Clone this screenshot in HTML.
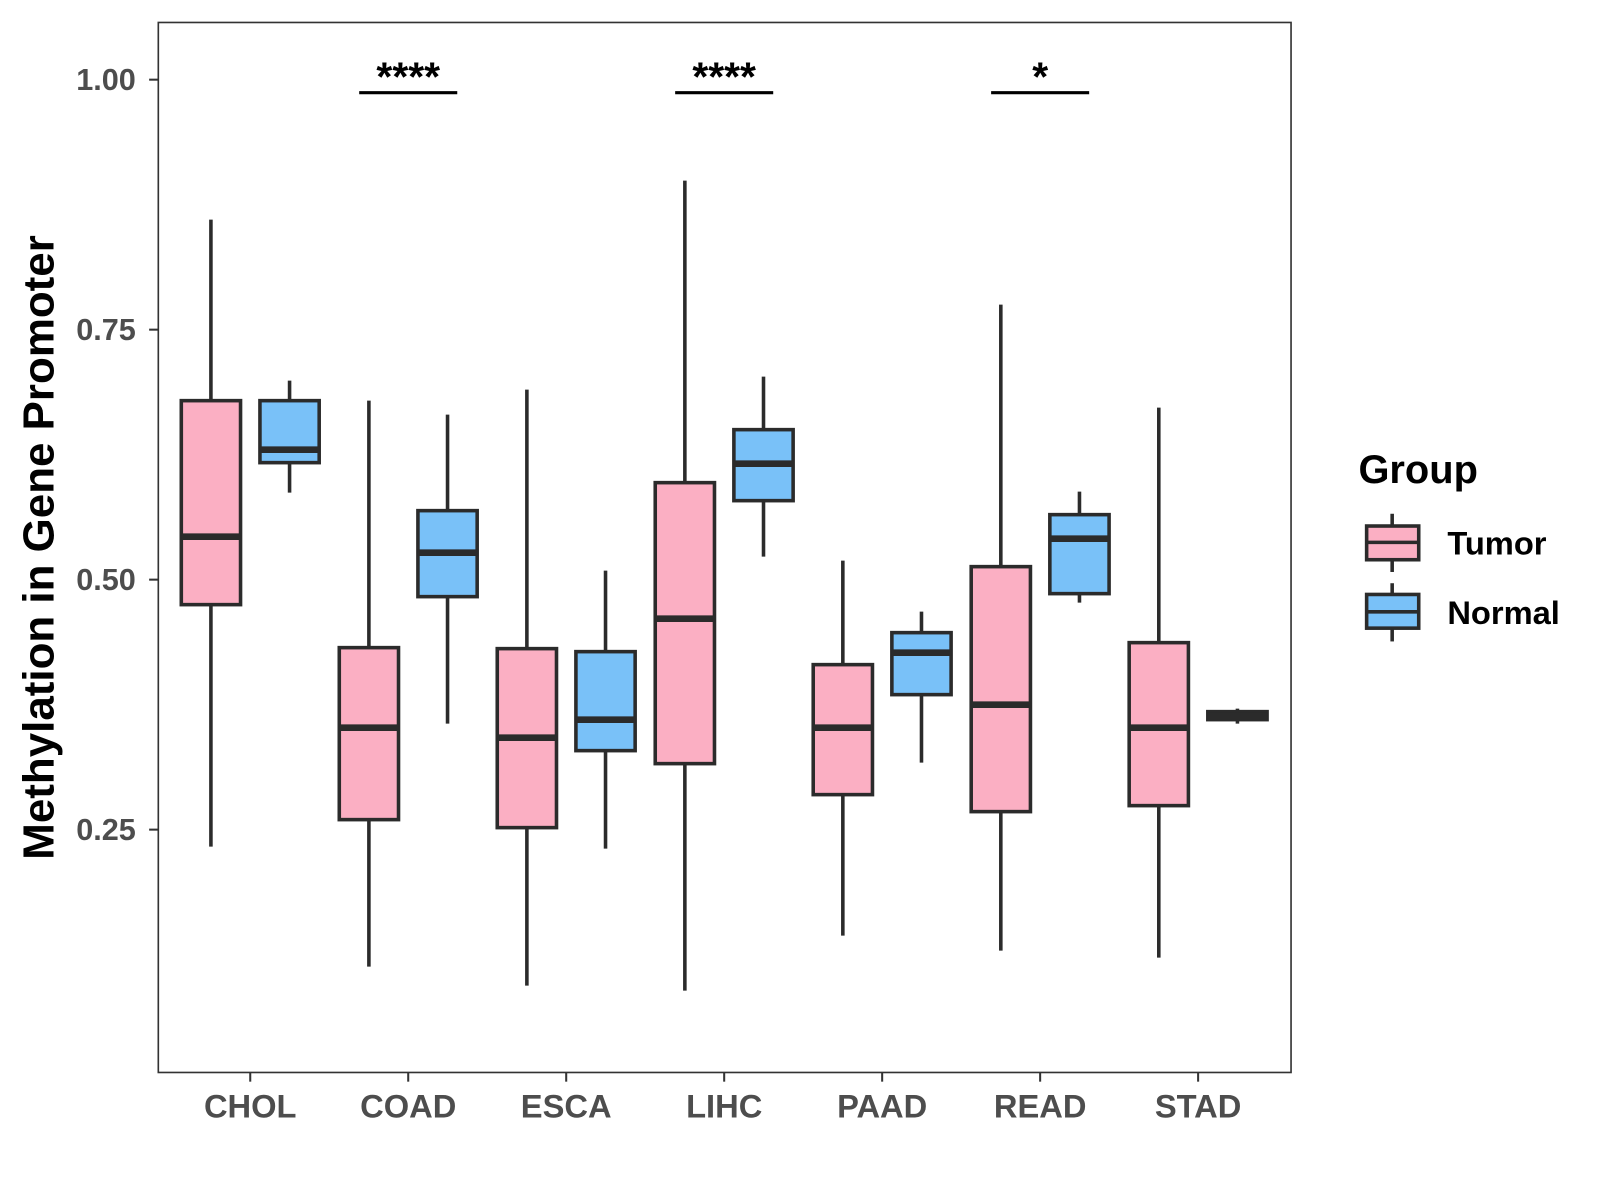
<!DOCTYPE html>
<html><head><meta charset="utf-8"><style>
html,body{margin:0;padding:0;background:#fff;}
svg{display:block;font-family:"Liberation Sans",Arial,sans-serif;}
</style></head><body>
<svg id="chart" width="1600" height="1200" viewBox="0 0 1600 1200" xmlns="http://www.w3.org/2000/svg">
<rect x="0" y="0" width="1600" height="1200" fill="#fff"/>
<g transform="scale(1.0214)">
<rect x="155" y="22" width="1109" height="1028" fill="none" stroke="#333" stroke-width="1.6"/>
<g id="marks"></g>
<g id="axes"></g>
<text x="38" y="536" transform="rotate(-90 38 536)" text-anchor="middle" dominant-baseline="central" font-size="43" font-weight="bold" fill="#000">Methylation in Gene Promoter</text>
<g>
<text x="1330" y="473" font-size="39" font-weight="bold" fill="#000">Group</text>
<g>
<line x1="1363" y1="503" x2="1363" y2="560" stroke="#2b2b2b" stroke-width="3.5"/>
<rect x="1338" y="515" width="51" height="33" fill="#FBAFC3" stroke="#2b2b2b" stroke-width="3.5"/>
<line x1="1338" y1="531" x2="1389" y2="531" stroke="#2b2b2b" stroke-width="3.5"/>
<text x="1417" y="543" font-size="32" font-weight="bold" fill="#000">Tumor</text>
</g>
<g>
<line x1="1363" y1="571" x2="1363" y2="628" stroke="#2b2b2b" stroke-width="3.5"/>
<rect x="1338" y="582" width="51" height="33" fill="#79C1F8" stroke="#2b2b2b" stroke-width="3.5"/>
<line x1="1338" y1="599" x2="1389" y2="599" stroke="#2b2b2b" stroke-width="3.5"/>
<text x="1417" y="611" font-size="32" font-weight="bold" fill="#000">Normal</text>
</g>
</g>
</g>
</svg>
<script>
const categories = ["CHOL","COAD","ESCA","LIHC","PAAD","READ","STAD"];
const tumorMin = [0.233,0.113,0.094,0.089,0.144,0.129,0.122];
const tumorQ1 = [0.475,0.260,0.252,0.316,0.285,0.268,0.274];
const tumorMed = [0.543,0.352,0.342,0.461,0.352,0.375,0.352];
const tumorQ3 = [0.679,0.432,0.431,0.597,0.415,0.513,0.437];
const tumorMax = [0.860,0.679,0.690,0.899,0.519,0.775,0.672];
const normalMin = [0.587,0.356,0.231,0.523,0.317,0.477,0.356];
const normalQ1 = [0.617,0.483,0.329,0.579,0.385,0.486,0.360];
const normalMed = [0.630,0.527,0.360,0.616,0.427,0.541,0.364];
const normalQ3 = [0.679,0.569,0.428,0.650,0.447,0.565,0.368];
const normalMax = [0.699,0.665,0.509,0.703,0.468,0.588,0.371];
const yTicks = [0.25,0.50,0.75,1.00];
const yTickLabels = ["0.25","0.50","0.75","1.00"];
const sigCategories = ["COAD","LIHC","READ"];
const sigLabels = ["****","****","*"];
const sigLevel = 0.987;

const NS = "http://www.w3.org/2000/svg";
function yScale(v){ return 78 + (1 - v) * 979; }
function xScale(i){ return 245 + i * 154.67; }
function mk(tag, attrs, parent){
  const e = document.createElementNS(NS, tag);
  for (const k in attrs) e.setAttribute(k, attrs[k]);
  parent.appendChild(e);
  return e;
}
const marks = document.getElementById('marks');
const axes = document.getElementById('axes');
const ST = "#2b2b2b";
function drawBox(cx, mn, q1, md, q3, mx, fill, name){
  const g = mk('g', {}, marks);
  
  
  mk('line', {x1:cx, x2:cx, y1:yScale(mx), y2:yScale(mn), stroke:ST, 'stroke-width':3.5}, g);
  const top = yScale(q3), bot = yScale(q1);
  mk('rect', {x:cx-29, y:top, width:58, height:Math.max(bot-top,0.1), fill:fill, stroke:ST, 'stroke-width':3.5}, g);
  mk('line', {x1:cx-29, x2:cx+29, y1:yScale(md), y2:yScale(md), stroke:ST, 'stroke-width':6.5}, g);
}
categories.forEach((c, i) => {
  const cx = xScale(i);
  drawBox(cx-38.5, tumorMin[i], tumorQ1[i], tumorMed[i], tumorQ3[i], tumorMax[i], "#FBAFC3", "box-tumor-" + c.toLowerCase());
  drawBox(cx+38.5, normalMin[i], normalQ1[i], normalMed[i], normalQ3[i], normalMax[i], "#79C1F8", "box-normal-" + c.toLowerCase());
  const t = mk('line', {x1:cx, x2:cx, y1:1050, y2:1059, stroke:"#333", 'stroke-width':2}, axes);
  
  
  const lb = mk('text', {x:cx, y:1094, 'text-anchor':'middle', 'font-size':32, 'font-weight':'bold', fill:'#4d4d4d'}, axes);
  
  
  lb.textContent = c;
});
yTicks.forEach((v, i) => {
  const y = yScale(v);
  const t = mk('line', {x1:146, x2:155, y1:y, y2:y, stroke:"#333", 'stroke-width':2}, axes);
  
  
  const lb = mk('text', {x:133, y:y+10, 'text-anchor':'end', 'font-size':30, 'font-weight':'bold', fill:'#4d4d4d'}, axes);
  
  
  lb.textContent = yTickLabels[i];
});
sigCategories.forEach((c, k) => {
  const i = categories.indexOf(c);
  const cx = xScale(i);
  const y = yScale(sigLevel);
  const l = mk('line', {x1:cx-48, x2:cx+48, y1:y, y2:y, stroke:"#000", 'stroke-width':3}, marks);
  
  
  const t = mk('text', {x:cx, y:y-2, 'text-anchor':'middle', 'font-size':40, 'font-weight':'bold', fill:'#000'}, marks);
  
  
  t.textContent = sigLabels[k];
});
</script>
</body></html>
